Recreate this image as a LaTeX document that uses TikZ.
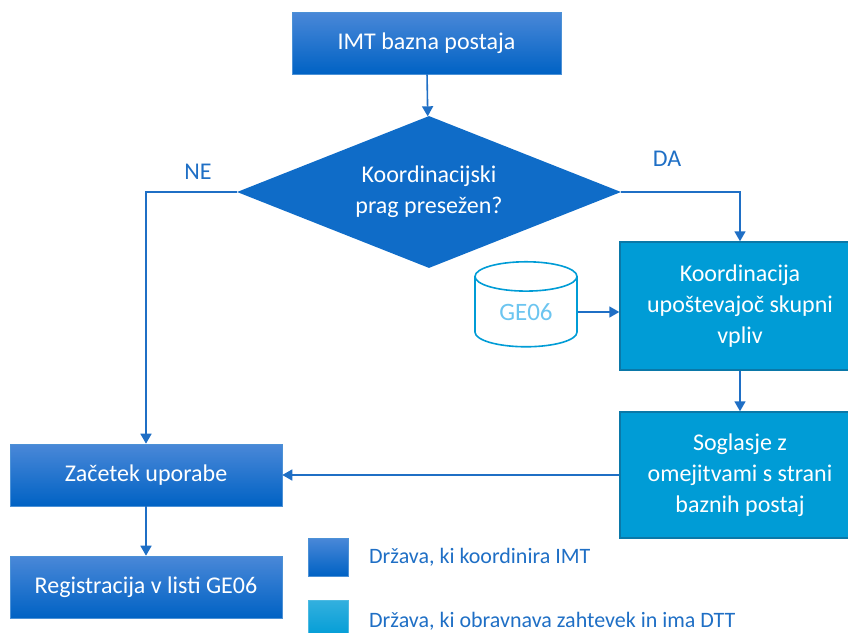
\documentclass[tikz,border=0pt]{standalone}
\usepackage{fontspec}
\setmainfont{Carlito}
\usetikzlibrary{arrows.meta,shapes.geometric}
\definecolor{imtblue}{HTML}{0F6CC8}
\definecolor{imttop}{HTML}{4A88D8}
\definecolor{imtbot}{HTML}{0062C4}
\definecolor{dttblue}{HTML}{009CD6}
\definecolor{dttedge}{HTML}{0A78A8}
\definecolor{linkblue}{HTML}{1F6FC5}
\definecolor{dbtext}{HTML}{6CC5F0}
\tikzset{
  imtbox/.style={rectangle, draw=imtbot!70!white, line width=0.6pt, top color=imttop, bottom color=imtbot,
    text=white, minimum width=272pt, minimum height=62pt, inner sep=0pt},
  dttbox/.style={rectangle, draw=dttedge, line width=1.4pt, fill=dttblue, text=white, align=center,
    minimum width=240pt, inner sep=0pt},
  link/.style={draw=linkblue, line width=1.6pt, -{Triangle[width=11pt,length=10pt]}},
  lbl/.style={text=linkblue, inner sep=0pt}
}
\begin{document}
\begin{tikzpicture}[x=1pt, y=-1pt, font=\fontsize{24}{31}\selectfont]
  \useasboundingbox (0,0) rectangle (848,632);
  % flowchart
  \node[imtbox, minimum width=269pt] (imt) at (426.5,43) {IMT bazna postaja};
  \node[diamond, fill=imtblue, text=white, align=center, minimum width=384pt, minimum height=152pt,
    aspect=2.5, inner sep=0pt] (prag) at (429,192) {Koordinacijski\\prag presežen?};
  \node[dttbox, minimum height=128pt] (koord) at (740,306) {Koordinacija\\upoštevajoč skupni\\vpliv};
  \node[dttbox, minimum height=126pt] (sogl) at (740,475) {Soglasje z\\omejitvami s strani\\baznih postaj};
  \node[imtbox] (zac) at (146,475) {Začetek uporabe};
  \node[imtbox] (reg) at (146,587) {Registracija v listi GE06};
  \node[cylinder, shape border rotate=90, draw=dttblue, line width=1.6pt, fill=white, aspect=0.55,
    minimum width=102pt, minimum height=85pt, text=dbtext, inner sep=0pt,
    font=\fontsize{25}{30}\selectfont] (ge06) at (526,312) {\raisebox{-8pt}{GE06}};
  % connectors
  \draw[link] (imt) -- (prag);
  \draw[link] (prag.west) -| (zac.north);
  \draw[link] (prag.east) -| (koord.north);
  \draw[link] (ge06.east) -- (ge06.east -| koord.west);
  \draw[link] (koord) -- (sogl);
  \draw[link] (sogl) -- (zac);
  \draw[link] (zac) -- (reg);
  \node[lbl] (ne) at (198,172) {NE};
  \node[lbl] (da) at (667,159) {DA};
  % legend
  \node[imtbox, minimum width=40pt, minimum height=38pt] (leg1) at (328,557) {};
  \node[imtbox, top color=dttblue!80!white, bottom color=dttblue, draw=dttblue!70!white,
    minimum width=40pt, minimum height=38pt] (leg2) at (328,619) {};
  \node[lbl, anchor=west, font=\fontsize{22}{26}\selectfont] (legt1) at (369,557) {Država, ki koordinira IMT};
  \node[lbl, anchor=west, font=\fontsize{22}{26}\selectfont] (legt2) at (369,621) {Država, ki obravnava zahtevek in ima DTT};
\end{tikzpicture}
\end{document}
